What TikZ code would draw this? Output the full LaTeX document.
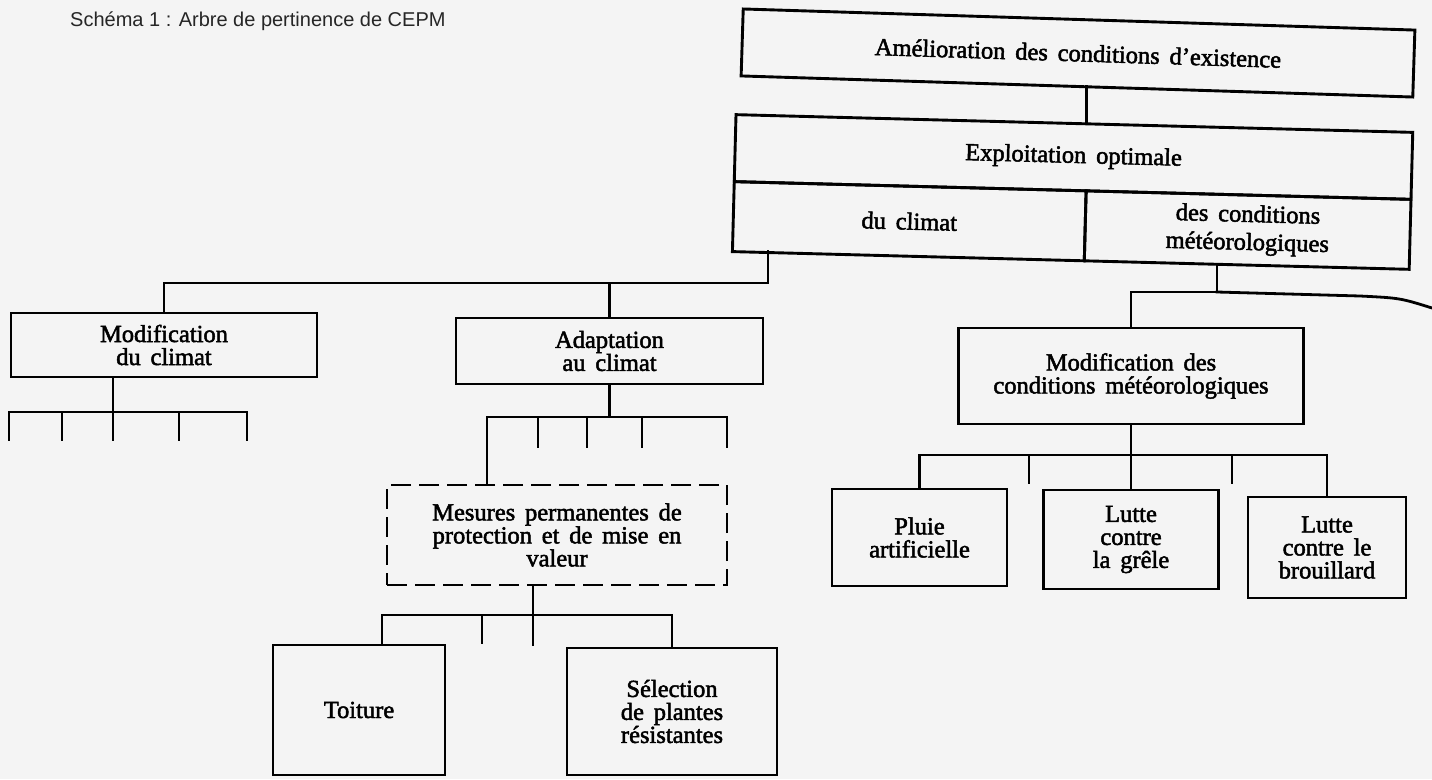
\documentclass[tikz,border=0pt]{standalone}
\usepackage{fontspec}
\usepackage{tikz}
\usetikzlibrary{arrows, shapes, positioning}
\newfontfamily\schemafont[WordSpace=1.6, FakeBold=2]{Liberation Serif}
\newfontfamily\titrefont{Liberation Sans}
\tikzset{
	boite/.style={draw, line width=2.9pt, outer sep=0pt, align=center, inner sep=0pt, font={\schemafont\fontsize{24.5}{23}\selectfont}},
	lien/.style={line width=2.8pt, line cap=rect},
}

\begin{document}
\begin{tikzpicture}[x=1pt, y=-1pt]
	\useasboundingbox (0,0) rectangle (1432,779);
	\fill[gray!9] (0,0) rectangle (1432,779);

	\node[anchor=base west, inner sep=0pt, font={\titrefont\fontsize{20}{24}\selectfont}, text=black!85] (Titre) at (70,26) {Schéma 1 : Arbre de pertinence de CEPM};

	\node[boite, minimum width=672pt, minimum height=67pt, rotate=-1.8] (Amelioration) at (1078,53) {Amélioration des conditions d’existence};
	\node[boite, minimum width=677pt, minimum height=67pt, rotate=-1.5] (Exploitation) at (1073.5,157) {Exploitation optimale};
	\node[boite, minimum width=352pt, minimum height=70pt, rotate=-1.5, anchor=north west] (DuClimat) at (Exploitation.south west) {du climat};
	\node[boite, minimum width=325pt, minimum height=70pt, rotate=-1.5, anchor=north west, font={\schemafont\fontsize{24.5}{28}\selectfont}] (DesConditions) at (DuClimat.north east) {des conditions\\météorologiques};

	\node[boite, minimum width=306pt, minimum height=64pt] (ModifClimat) at (164,345) {Modification\\du climat};
	\node[boite, minimum width=307pt, minimum height=66pt] (Adaptation) at (609.5,351) {Adaptation\\au climat};
	\node[boite, dashed, dash pattern=on 20pt off 8pt, minimum width=340pt, minimum height=100pt] (Mesures) at (557,535) {Mesures permanentes de\\protection et de mise en\\valeur};
	\node[boite, minimum width=172pt, minimum height=130pt] (Toiture) at (359,710) {Toiture};
	\node[boite, minimum width=210pt, minimum height=127pt] (Selection) at (672,711.5) {Sélection\\de plantes\\résistantes};

	\node[boite, minimum width=345pt, minimum height=96pt] (ModifConditions) at (1131,376) {Modification des\\conditions météorologiques};
	\node[boite, minimum width=175pt, minimum height=97pt] (Pluie) at (919.5,537.5) {Pluie\\artificielle};
	\node[boite, minimum width=175pt, minimum height=99pt] (Grele) at (1131,539.5) {Lutte\\contre\\la grêle};
	\node[boite, minimum width=158pt, minimum height=101pt] (Brouillard) at (1327,547.5) {Lutte\\contre le\\brouillard};

	\coordinate (Jonction) at (DuClimat.north east);
	\draw[lien] (Amelioration.south -| Jonction) -- (Exploitation.north -| Jonction);

	\coordinate (BrancheClimat) at (768,283);
	\draw[lien] (BrancheClimat |- DuClimat.south west) -- (BrancheClimat) -| (ModifClimat.north);
	\draw[lien] (BrancheClimat -| Adaptation.north) -- (Adaptation.north);

	\coordinate (BarreClimat) at (113,412);
	\draw[lien] (ModifClimat.south -| BarreClimat) -- (BarreClimat);
	\foreach \x [count=\i] in {9, 62, 113, 179, 247} {
		\coordinate (TigeClimat\i) at (\x,440);
		\draw[lien] (TigeClimat\i |- BarreClimat) -- (TigeClimat\i);
	}
	\draw[lien] (TigeClimat1 |- BarreClimat) -- (TigeClimat5 |- BarreClimat);

	\coordinate (VersMesures) at (487,417);
	\draw[lien] (Adaptation.south) -- (Adaptation.south |- VersMesures);
	\foreach \x [count=\i] in {538, 587, 642, 727} {
		\coordinate (TigeAdapt\i) at (\x,447);
		\draw[lien] (TigeAdapt\i |- VersMesures) -- (TigeAdapt\i);
	}
	\draw[lien] (Mesures.north -| VersMesures) -- (VersMesures) -- (TigeAdapt4 |- VersMesures);

	\coordinate (VersToiture) at (382,615);
	\coordinate (TigeMesures1) at (482,643);
	\coordinate (TigeMesures2) at (533,645);
	\draw[lien] (Toiture.north -| VersToiture) -- (VersToiture) -| (Selection.north);
	\draw[lien] (Mesures.south -| TigeMesures2) -- (TigeMesures2);
	\draw[lien] (TigeMesures1 |- VersToiture) -- (TigeMesures1);

	\coordinate (BrancheMeteo) at (1217,292);
	\coordinate (Courbure) at (1360,296);
	\coordinate (HorsPage) at (1432,308);
	\draw[lien] (BrancheMeteo |- DesConditions.south) -- (BrancheMeteo) -| (ModifConditions.north);
	\draw[lien] (BrancheMeteo) -- (Courbure) .. controls (1400,298) .. (HorsPage);

	\coordinate (BarreMeteo) at (1131,455);
	\draw[lien] (ModifConditions.south) -- (Grele.north);
	\draw[lien] (Pluie.north) -- (Pluie.north |- BarreMeteo) -- (Brouillard.north |- BarreMeteo) -- (Brouillard.north);
	\foreach \x [count=\i] in {1029, 1232} {
		\coordinate (TigeMeteo\i) at (\x,483);
		\draw[lien] (TigeMeteo\i |- BarreMeteo) -- (TigeMeteo\i);
	}
\end{tikzpicture}
\end{document}
